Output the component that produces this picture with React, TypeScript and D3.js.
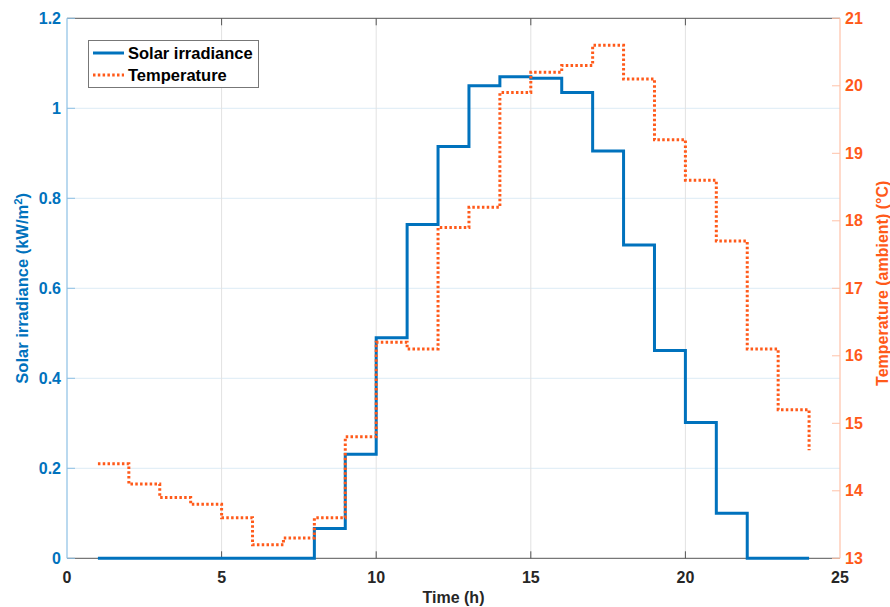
import React from "react";
import * as d3 from "d3";

const hours: number[] = d3.range(1, 25);
const solar: number[] = [0, 0, 0, 0, 0, 0, 0, 0.066, 0.231, 0.49, 0.742, 0.915, 1.05, 1.07, 1.067, 1.035, 0.905, 0.696, 0.462, 0.302, 0.1, 0, 0, 0];
const temperature: number[] = [14.4, 14.1, 13.9, 13.8, 13.6, 13.2, 13.3, 13.6, 14.8, 16.2, 16.1, 17.9, 18.2, 19.9, 20.2, 20.3, 20.6, 20.1, 19.2, 18.6, 17.7, 16.1, 15.2, 14.6];
const xTicks: number[] = [0, 5, 10, 15, 20, 25];
const yLeftTicks: number[] = [0, 0.2, 0.4, 0.6, 0.8, 1, 1.2];
const yRightTicks: number[] = [13, 14, 15, 16, 17, 18, 19, 20, 21];
const seriesNames: string[] = ["Solar irradiance", "Temperature"];

const W = 890, H = 607;
const L = 67, R = 840, T = 18.3, B = 558.3;
const BLUE = "#0072BD";
const BLUE_AXIS = "#8CC0E4";
const ORANGE = "#FF5A1A";
const ORANGE_AXIS = "#FFC2A8";
const FONT = "'Liberation Sans', Arial, Helvetica, sans-serif";

export default function App() {
  const x = d3.scaleLinear().domain([0, 25]).range([L, R]);
  const yL = d3.scaleLinear().domain([0, 1.2]).range([B, T]);
  const yR = d3.scaleLinear().domain([13, 21]).range([B, T]);

  const solarLine = d3.line<number>().x((_, i) => x(hours[i])).y((d) => yL(d)).curve(d3.curveStepAfter);
  const tempLine = d3.line<number>().x((_, i) => x(hours[i])).y((d) => yR(d)).curve(d3.curveStepAfter);

  const fmtL = (v: number) => (v === 0 ? "0" : v === 1 ? "1" : d3.format(".1f")(v));

  return (
    <svg width={W} height={H} style={{ position: "absolute", left: 0, top: 0, background: "#fff" }} fontFamily={FONT}>
      {/* horizontal grid (left axis) */}
      {yLeftTicks.slice(1, -1).map((t) => (
        <line key={"hg" + t} x1={L} x2={R} y1={yL(t)} y2={yL(t)} stroke="#DCEBF6" strokeWidth={1} />
      ))}
      {/* vertical grid */}
      {xTicks.slice(1, -1).map((t) => (
        <line key={"vg" + t} x1={x(t)} x2={x(t)} y1={T} y2={B} stroke="#E2E2E2" strokeWidth={1} />
      ))}
      {/* top and bottom box lines */}
      <line x1={L} x2={R} y1={T} y2={T} stroke="#555" strokeWidth={1} />
      <line x1={L} x2={R} y1={B} y2={B} stroke="#555" strokeWidth={1} />
      {/* x ticks top and bottom */}
      {xTicks.slice(1, -1).map((t) => (
        <g key={"xt" + t}>
          <line x1={x(t)} x2={x(t)} y1={B} y2={B - 7} stroke="#555" strokeWidth={1} />
          <line x1={x(t)} x2={x(t)} y1={T} y2={T + 7} stroke="#555" strokeWidth={1} />
        </g>
      ))}
      {xTicks.map((t) => (
        <text key={"xl" + t} x={x(t)} y={583} textAnchor="middle" fontSize={16} fontWeight="bold" fill="#262626">
          {t}
        </text>
      ))}
      {/* left axis */}
      <line x1={L} x2={L} y1={T} y2={B} stroke={BLUE_AXIS} strokeWidth={1.2} />
      {yLeftTicks.map((t) => (
        <g key={"yl" + t}>
          <line x1={L} x2={L + 8} y1={yL(t)} y2={yL(t)} stroke={BLUE_AXIS} strokeWidth={1} />
          <text x={L - 6} y={yL(t) + 5.5} textAnchor="end" fontSize={16} fontWeight="bold" fill={BLUE}>
            {fmtL(t)}
          </text>
        </g>
      ))}
      {/* right axis */}
      <line x1={R} x2={R} y1={T} y2={B} stroke={ORANGE_AXIS} strokeWidth={1.2} />
      {yRightTicks.map((t) => (
        <g key={"yr" + t}>
          <line x1={R} x2={R - 8} y1={yR(t)} y2={yR(t)} stroke={ORANGE_AXIS} strokeWidth={1} />
          <text x={R + 5} y={yR(t) + 5.5} textAnchor="start" fontSize={16} fontWeight="bold" fill={ORANGE}>
            {t}
          </text>
        </g>
      ))}
      {/* series */}
      <path d={solarLine(solar) || ""} fill="none" stroke={BLUE} strokeWidth={3} />
      <path d={tempLine(temperature) || ""} fill="none" stroke={ORANGE} strokeWidth={3} strokeDasharray="2.5,2.3" />
      {/* axis labels */}
      <text x={(L + R) / 2} y={603} textAnchor="middle" fontSize={16} fontWeight="bold" fill="#262626">
        Time (h)
      </text>
      <text transform={`translate(28,${(T + B) / 2}) rotate(-90)`} textAnchor="middle" fontSize={16.5} fontWeight="bold" fill={BLUE}>
        Solar irradiance (kW/m
        <tspan dy={-6} fontSize={11.5}>2</tspan>
        <tspan dy={6}>)</tspan>
      </text>
      <text transform={`translate(888,${(T + B) / 2 - 5}) rotate(-90)`} textAnchor="middle" fontSize={16} fontWeight="bold" fill={ORANGE}>
        Temperature (ambient) (°C)
      </text>
      {/* legend */}
      <rect x={88.5} y={40.5} width={170} height={47} fill="#fff" stroke="#777" strokeWidth={1} />
      <line x1={93} x2={124} y1={53} y2={53} stroke={BLUE} strokeWidth={3} />
      <line x1={93} x2={124} y1={75} y2={75} stroke={ORANGE} strokeWidth={3} strokeDasharray="2.5,2.3" />
      <text x={128} y={59} fontSize={16.5} fontWeight="bold" fill="#000">{seriesNames[0]}</text>
      <text x={128} y={81} fontSize={16.5} fontWeight="bold" fill="#000">{seriesNames[1]}</text>
    </svg>
  );
}
